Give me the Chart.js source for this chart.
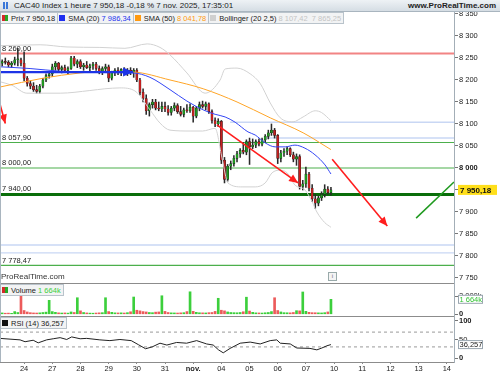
<!DOCTYPE html>
<html>
<head>
<meta charset="utf-8">
<script src="https://cdn.jsdelivr.net/npm/chart.js@4.4.1/dist/chart.umd.min.js"></script>
<style>
  body { margin:0; width:500px; height:375px; position:relative; overflow:hidden; background:#fff;
         font-family:'Liberation Sans', Arial, sans-serif; color:#222; }
  canvas { position:absolute; left:0; }
  #titlebar { position:absolute; left:0; top:0; width:500px; height:11px; line-height:11px; font-size:8px;
              background:linear-gradient(#eef2f5,#d5dde4); border-bottom:1px solid #a9b5bf; }
  #titlebar .ico { position:absolute; left:3px; top:2px; width:7px; height:7px;
              background:linear-gradient(90deg,#3b78d8 0 2px,transparent 2px 3px,#3b78d8 3px 5px,transparent 5px); }
  #titlebar .t { position:absolute; left:14px; top:0; }
  #titlebar .site { position:absolute; right:4px; top:0; font-weight:bold; }
  .legend { position:absolute; left:0; display:flex; height:11px; }
  .lg { display:flex; align-items:center; height:10px; font-size:7.5px; background:#f2f3f4;
        border:1px solid #b9c3cb; border-left:none; padding:0 2px 0 1px; white-space:pre; }
  .lg:first-child { border-left:1px solid #b9c3cb; }
  .sw { display:inline-block; width:6px; height:6px; margin-right:3px; }
  .line { position:absolute; background:#8c8c8c; }
  #brand { position:absolute; left:1px; top:272px; font-size:8px; color:#333; }
  #info { position:absolute; left:328px; top:272px; width:7px; height:7px; border:1px solid #9aa; font-size:6px;
          line-height:7px; text-align:center; color:#667; background:#f4f4f4; }
</style>
</head>
<body>
<div id="titlebar"><span class="ico"></span><span class="t" id="titleText"></span><span class="site">www.ProRealTime.com</span></div>

<canvas id="priceChart" width="500" height="271" style="top:12px"></canvas>
<canvas id="volChart" width="500" height="33" style="top:283px"></canvas>
<canvas id="rsiChart" width="500" height="59" style="top:316px"></canvas>

<div class="legend" style="top:12px">
  <span class="lg"><i class="sw" style="background:linear-gradient(90deg,#d42a2a 50%,#27a827 50%)"></i>Prix <span id="lgPrix"></span></span>
  <span class="lg"><i class="sw" style="background:#1f2ff0"></i>SMA (20) <span id="lgSma20" style="color:#2233ee"></span></span>
  <span class="lg"><i class="sw" style="background:#ff9a10"></i>SMA (50) <span id="lgSma50" style="color:#ff9a10"></span></span>
  <span class="lg"><i class="sw" style="background:#cfcfcf"></i>Bollinger (20 2,5) <span id="lgBoll" style="color:#c4c4c4"></span></span>
</div>
<div class="legend" style="top:284px">
  <span class="lg"><i class="sw" style="background:linear-gradient(90deg,#d42a2a 50%,#27a827 50%)"></i>Volume <span id="lgVol" style="color:#3ccf3c"></span></span>
</div>
<div class="legend" style="top:317px">
  <span class="lg"><i class="sw" style="background:#111"></i>RSI (14) <span id="lgRsi"></span></span>
</div>

<div class="line" style="left:0;top:283px;width:454px;height:1px"></div>
<div class="line" style="left:0;top:316px;width:454px;height:1px"></div>
<div class="line" style="left:0;top:12px;width:1px;height:350px;background:#a9b5bf"></div>
<div id="brand">ProRealTime.com</div>
<div id="info">i</div>

<script>
// x = bar index (1 hour bars, 9 per session), 23 oct (partial) .. 7 nov
const dayLabels = ['24', '27', '28', '29', '30', '31', 'nov.', '04', '05', '06', '07', '10', '11', '12', '13', '14'];
const dayStarts = [7, 16, 25, 34, 43, 52, 61, 70, 79, 88, 97, 106, 115, 124, 133, 142];
const X_MIN = -0.7;
const X_MAX = 144.3;

const openP = [
  8238, 8242, 8240, 8234, 8238, 8246, 8246,
  8238, 8204, 8192, 8186, 8178, 8174, 8186, 8200, 8210,
  8214, 8230, 8238, 8224, 8228, 8222, 8226, 8250, 8236,
  8242, 8230, 8234, 8228, 8232, 8236, 8226, 8220, 8226,
  8230, 8204, 8216, 8222, 8218, 8224, 8216, 8222, 8218,
  8222, 8200, 8172, 8158, 8130, 8144, 8150, 8136, 8134,
  8140, 8134, 8126, 8136, 8142, 8128, 8122, 8132, 8130,
  8138, 8118, 8136, 8144, 8140, 8146, 8128, 8108, 8100,
  8106, 8018, 7974, 8004, 8010, 8022, 8032, 8040, 8036,
  8060, 8048, 8052, 8060, 8054, 8064, 8072, 8080, 8086,
  8074, 8022, 8034, 8038, 8044, 8030, 8020, 8026, 7958,
  7964, 7986, 7954, 7930, 7920, 7932, 7940, 7952, 7944
];
const highP = [
  8246, 8250, 8244, 8242, 8252, 8272, 8250,
  8264, 8208, 8198, 8194, 8188, 8190, 8204, 8214, 8218,
  8236, 8242, 8240, 8232, 8234, 8230, 8254, 8254, 8246,
  8246, 8238, 8242, 8236, 8240, 8240, 8232, 8230, 8236,
  8234, 8220, 8226, 8228, 8226, 8228, 8226, 8228, 8226,
  8226, 8204, 8180, 8166, 8148, 8156, 8156, 8150, 8150,
  8150, 8142, 8140, 8148, 8146, 8140, 8136, 8144, 8146,
  8140, 8140, 8150, 8152, 8150, 8148, 8132, 8114, 8112,
  8108, 8024, 8008, 8016, 8028, 8038, 8044, 8058, 8064,
  8068, 8066, 8064, 8066, 8068, 8076, 8086, 8100, 8090,
  8076, 8040, 8044, 8048, 8046, 8036, 8032, 8030, 7972,
  8002, 7990, 7962, 7940, 7936, 7946, 7962, 7958, 7956
];
const lowP = [
  8232, 8236, 8230, 8228, 8234, 8232, 8232,
  8198, 8186, 8180, 8174, 8170, 8170, 8182, 8196, 8204,
  8208, 8222, 8220, 8216, 8218, 8214, 8224, 8232, 8228,
  8226, 8222, 8226, 8218, 8224, 8222, 8214, 8212, 8218,
  8196, 8200, 8210, 8212, 8210, 8214, 8210, 8212, 8206,
  8196, 8166, 8150, 8122, 8118, 8136, 8132, 8130, 8128,
  8128, 8120, 8120, 8130, 8124, 8118, 8116, 8126, 8126,
  8104, 8114, 8130, 8136, 8132, 8124, 8102, 8094, 8094,
  8010, 7966, 7970, 7996, 8004, 8014, 8024, 8032, 8030,
  8008, 8044, 8046, 8050, 8050, 8058, 8066, 8074, 8068,
  8010, 8014, 8026, 8030, 8026, 8014, 8006, 7952, 7950,
  7956, 7948, 7924, 7908, 7914, 7926, 7934, 7940, 7938
];
const closeP = [
  8242, 8240, 8234, 8238, 8246, 8246, 8238,
  8204, 8192, 8186, 8178, 8174, 8186, 8200, 8210, 8214,
  8230, 8238, 8224, 8228, 8222, 8226, 8250, 8236, 8242,
  8230, 8234, 8228, 8232, 8236, 8226, 8220, 8226, 8230,
  8204, 8216, 8222, 8218, 8224, 8216, 8222, 8218, 8222,
  8200, 8172, 8158, 8130, 8144, 8150, 8136, 8134, 8140,
  8134, 8126, 8136, 8142, 8128, 8122, 8132, 8130, 8138,
  8118, 8136, 8144, 8140, 8146, 8128, 8108, 8100, 8106,
  8018, 7974, 8004, 8010, 8022, 8032, 8040, 8036, 8060,
  8048, 8052, 8060, 8054, 8064, 8072, 8080, 8086, 8074,
  8022, 8034, 8038, 8044, 8030, 8020, 8026, 7958, 7964,
  7986, 7954, 7930, 7920, 7932, 7940, 7952, 7944, 7950.18
];
// volume in thousands
const volumeK = [
  150, 120, 130, 110, 300, 200, 2000,
  420, 260, 180, 150, 140, 160, 200, 240, 1550,
  300, 220, 160, 140, 150, 130, 260, 200, 1840,
  380, 200, 150, 130, 120, 140, 160, 180, 1840,
  300, 220, 160, 150, 160, 140, 180, 280, 1920,
  450, 380, 300, 260, 200, 180, 240, 260, 2060,
  320, 200, 160, 150, 140, 160, 180, 300, 2500,
  330, 220, 170, 160, 150, 180, 200, 320, 1780,
  450, 380, 260, 200, 180, 170, 200, 280, 1900,
  360, 220, 160, 150, 140, 170, 200, 300, 1840,
  420, 260, 180, 170, 160, 200, 400, 380, 2480,
  330, 220, 180, 170, 160, 150, 180, 260, 1664
];

// indicator lines: [bar index, value]
const sma20 = [[-0.7, 8230], [8.9, 8226], [18.5, 8220], [31.2, 8217], [41.8, 8216], [47.2, 8206], [53.6, 8178],
  [59, 8152], [64.2, 8132], [68, 8122], [71.2, 8116], [74.4, 8104], [78.5, 8082], [80.8, 8075], [84, 8057],
  [87.2, 8048], [90.4, 8048], [93.5, 8052], [96.7, 8045], [99.9, 8030], [103.1, 8007], [105, 7986.34]];
const sma50 = [[-0.7, 8184], [13, 8204], [24.9, 8216], [31.2, 8219], [41.8, 8218], [53.6, 8200], [64.2, 8180],
  [75, 8150], [85.6, 8114], [96.1, 8080], [105, 8041.78]];
const bollUp = [[-0.7, 8278], [12.1, 8280], [20.7, 8275], [31.2, 8274], [39.2, 8272], [46.3, 8282], [50.4, 8274],
  [53.6, 8257], [59, 8216], [64.8, 8170], [69.6, 8200], [71.2, 8225], [75, 8227], [79.2, 8214], [82.4, 8192],
  [85.6, 8148], [88.8, 8114], [92.9, 8105], [96.1, 8116], [100, 8130], [102, 8126], [105, 8107.42]];
const bollLow = [[-0.7, 8196], [3.1, 8188], [7.9, 8170], [18.5, 8170], [28, 8176], [32.8, 8180], [37.6, 8182],
  [42.4, 8175], [47.2, 8132], [50.4, 8102], [53.6, 8086], [60, 8084], [64, 8084], [68, 8090], [70.2, 8023],
  [72.1, 7966], [76.6, 7957], [80.8, 7957], [84, 7966], [86.2, 7989], [88.7, 7995], [91, 7989], [93.5, 7961],
  [96.7, 7950], [99, 7923], [100.5, 7900], [103, 7876], [105, 7865.25]];
const rsi = [[-0.7, 53], [2.5, 51], [5.7, 49], [7.3, 44], [9.9, 48], [11.5, 41], [14.2, 49], [16.3, 52], [18.5, 55],
  [20.6, 50], [22.2, 57], [24.9, 52], [27, 53], [31.2, 49], [34.4, 47], [37.6, 50], [41.2, 47], [43.5, 36],
  [45.8, 25], [47.9, 30], [50.4, 40], [52.6, 35], [55.7, 42], [58.9, 40], [62.1, 47], [65.3, 38], [67.4, 35],
  [69.1, 22], [70.6, 14], [72.8, 26], [76, 40], [79.2, 43], [82.4, 38], [85.6, 47], [87.7, 49], [88.8, 40],
  [92, 38], [94.1, 27], [98.3, 26], [100.5, 22], [102.1, 27], [103.7, 33], [105, 36.257]];

// horizontal levels
const levelValues = [8260, 8057.9, 8000, 7940, 7778.47];
const guideValues = [8104, 8068, 7825, 7807];
const guideStarts = [72.8, 84, -0.7, -0.7];
const rsiLevels = [70, 30];

// drawn trend arrows: [bar index, price] start and end
const blueArrow = [[-0.7, 8218], [41.8, 8218]];
const redArrows = [
  [[-2, 8178], [1.0, 8101]],
  [[68.6, 8098], [94.5, 7966]],
  [[105.4, 8020], [123, 7868]]
];
const greenTrend = [[132.2, 7886], [144.3, 7968]];

const priceTicks = [7750, 7800, 7850, 7900, 7950, 8000, 8050, 8100, 8150, 8200, 8250, 8300, 8350];
const volTicks = [0, 1000, 2000, 3000];
const rsiTicks = [0, 50, 100];
const changePct = -0.18;

const FONT = "'Liberation Sans', Arial, sans-serif";
const levelStyles = [
  { color: 'rgba(240,110,110,0.85)', width: 2 },
  { color: '#4caf4c', width: 1.2 },
  { color: '#4caf4c', width: 1.2 },
  { color: '#0a6e0a', width: 3 },
  { color: '#4caf4c', width: 1.2 }
];

const fr = (v, d) => {
  const [i, f] = Math.abs(v).toFixed(d).split('.');
  return (v < 0 ? '-' : '') + i.replace(/\B(?=(\d{3})+(?!\d))/g, ' ') + (f ? ',' + f : '');
};
const pts = arr => arr.map(([x, y]) => ({ x, y }));
const last = arr => arr[arr.length - 1][1];
const lastClose = closeP[closeP.length - 1];
const lastVol = volumeK[volumeK.length - 1];

document.getElementById('titleText').textContent =
  `CAC40 Index 1 heure ${fr(lastClose, 2)} ${fr(changePct, 2)} % 7 nov. 2025, 17:35:01`;
document.getElementById('lgPrix').textContent = fr(lastClose, 2);
document.getElementById('lgSma20').textContent = fr(last(sma20), 2);
document.getElementById('lgSma50').textContent = fr(last(sma50), 2);
document.getElementById('lgBoll').textContent = fr(last(bollUp), 2) + '  ' + fr(last(bollLow), 2);
document.getElementById('lgVol').textContent = fr(lastVol, 0) + 'k';
document.getElementById('lgRsi').textContent = fr(last(rsi), 3);

Chart.defaults.font.family = FONT;

const xScale = (show) => ({
  type: 'linear', min: X_MIN, max: X_MAX, offset: false, display: show,
  grid: { display: true, drawOnChartArea: false, tickLength: 2, color: '#888', offset: false },
  border: { color: '#8c8c8c' },
  afterBuildTicks: s => { s.ticks = dayStarts.map(v => ({ value: v })); },
  afterFit: s => { s.height = show ? 13 : 0; s.paddingLeft = 0; s.paddingRight = 0; },
  ticks: {
    autoSkip: false, maxRotation: 0, padding: 0, color: '#222',
    font: c => ({ family: FONT, size: 7.5, weight: c.tick && dayLabels[dayStarts.indexOf(c.tick.value)] === 'nov.' ? 'bold' : 'normal' }),
    callback: v => dayLabels[dayStarts.indexOf(v)]
  }
});

const yScale = (min, max, ticks, fmt, bold) => ({
  type: 'linear', position: 'right', min, max,
  grid: { drawOnChartArea: false, tickLength: 4, color: '#777' },
  border: { color: '#a3aeb7' },
  afterBuildTicks: s => { s.ticks = ticks.map(v => ({ value: v })); },
  afterFit: s => { s.width = 46; s.paddingTop = 0; s.paddingBottom = 0; },
  ticks: {
    padding: 1, color: '#222',
    font: c => ({ family: FONT, size: 7.5, weight: c.tick && bold.includes(c.tick.value) ? 'bold' : 'normal' }),
    callback: fmt
  }
});

const baseOptions = {
  responsive: false, animation: false, devicePixelRatio: 1, events: [],
  layout: { padding: 0 },
  plugins: { legend: { display: false }, tooltip: { enabled: false } }
};

const arrowHeads = {
  id: 'arrowHeads',
  afterDatasetsDraw(chart) {
    const { ctx, chartArea } = chart;
    ctx.save();
    ctx.beginPath();
    ctx.rect(chartArea.left, chartArea.top, chartArea.right - chartArea.left, chartArea.bottom - chartArea.top);
    ctx.clip();
    chart.data.datasets.forEach((ds, i) => {
      if (!ds.head) return;
      const el = chart.getDatasetMeta(i).data;
      const a = el[el.length - 2], b = el[el.length - 1];
      const ang = Math.atan2(b.y - a.y, b.x - a.x);
      const { len, half } = ds.head;
      const bx = b.x - len * Math.cos(ang), by = b.y - len * Math.sin(ang);
      ctx.fillStyle = ds.borderColor;
      ctx.beginPath();
      ctx.moveTo(b.x, b.y);
      ctx.lineTo(bx + half * Math.sin(ang), by - half * Math.cos(ang));
      ctx.lineTo(bx - half * Math.sin(ang), by + half * Math.cos(ang));
      ctx.closePath();
      ctx.fill();
    });
    ctx.restore();
  }
};

const priceOverlay = {
  id: 'priceOverlay',
  afterDatasetsDraw(chart) {
    const { ctx, scales: { y } } = chart;
    ctx.save();
    ctx.font = `7.5px ${FONT}`;
    ctx.fillStyle = '#222';
    levelValues.forEach((v, i) => {
      ctx.fillText(fr(v, 2), 2, y.getPixelForValue(v) - levelStyles[i].width / 2 - 2);
    });
    ctx.restore();
  },
  afterDraw(chart) {
    const { ctx, scales: { y } } = chart;
    const py = y.getPixelForValue(lastClose);
    ctx.save();
    ctx.fillStyle = '#ffdf1a';
    ctx.fillRect(458, py - 5, 39, 10);
    ctx.font = `bold 8px ${FONT}`;
    ctx.fillStyle = '#111';
    ctx.textBaseline = 'middle';
    ctx.fillText(fr(lastClose, 2), 460, py + 0.5);
    ctx.restore();
  }
};

const axisTag = (value, text, color) => ({
  id: 'axisTag',
  afterDraw(chart) {
    const { ctx, scales: { y } } = chart;
    const py = y.getPixelForValue(value);
    ctx.save();
    ctx.fillStyle = '#fff';
    ctx.strokeStyle = '#9aa6b0';
    ctx.fillRect(458, py - 4.5, 25, 9);
    ctx.strokeRect(458.5, py - 4, 24, 8);
    ctx.font = `7.5px ${FONT}`;
    ctx.fillStyle = color;
    ctx.textBaseline = 'middle';
    ctx.fillText(text, 459.5, py + 0.5);
    ctx.restore();
  }
});

const upColor = i => closeP[i] >= openP[i];

const priceDatasets = [
  ...redArrows.map(a => ({
    type: 'line', data: pts(a), borderColor: '#ff1e1e', borderWidth: 1.6, pointRadius: 0,
    head: { len: 9, half: 4 }, order: 0
  })),
  { type: 'line', data: pts(blueArrow), borderColor: '#1d34e6', borderWidth: 2.2, pointRadius: 0,
    head: { len: 10, half: 4.5 }, order: 0 },
  { type: 'line', data: pts(greenTrend), borderColor: '#1f9a1f', borderWidth: 1.5, pointRadius: 0, order: 0 },
  { type: 'line', data: pts(sma20), borderColor: '#3346f5', borderWidth: 1, pointRadius: 0, cubicInterpolationMode: 'monotone', order: 1 },
  { type: 'line', data: pts(sma50), borderColor: '#ffa527', borderWidth: 1, pointRadius: 0, cubicInterpolationMode: 'monotone', order: 1 },
  { type: 'line', data: pts(bollUp), borderColor: '#d2d2d2', borderWidth: 1, pointRadius: 0, cubicInterpolationMode: 'monotone', order: 2 },
  { type: 'line', data: pts(bollLow), borderColor: '#d2d2d2', borderWidth: 1, pointRadius: 0, cubicInterpolationMode: 'monotone', order: 2 },
  { type: 'bar', data: openP.map((o, i) => ({ x: i, y: [o, closeP[i]] })), grouped: false, barThickness: 2.2, minBarLength: 1,
    backgroundColor: openP.map((o, i) => upColor(i) ? '#1f9a1f' : '#c42020'),
    borderColor: '#1b1b1b', borderWidth: 0.4, borderSkipped: false, order: 3 },
  { type: 'bar', data: lowP.map((l, i) => ({ x: i, y: [l, highP[i]] })), grouped: false, barThickness: 0.9,
    backgroundColor: '#2a2a2a', order: 4 },
  ...levelValues.map((v, i) => ({
    type: 'line', data: [{ x: X_MIN, y: v }, { x: X_MAX, y: v }], borderColor: levelStyles[i].color,
    borderWidth: levelStyles[i].width, pointRadius: 0, order: 5
  })),
  ...guideValues.map((v, i) => ({
    type: 'line', data: [{ x: guideStarts[i], y: v }, { x: X_MAX, y: v }], borderColor: '#c9d7f4',
    borderWidth: 1.4, pointRadius: 0, order: 6
  }))
];

new Chart(document.getElementById('priceChart'), {
  type: 'bar',
  data: { datasets: priceDatasets },
  options: {
    ...baseOptions,
    scales: {
      x: xScale(false),
      y: yScale(7738.6, 8354.5, priceTicks, v => fr(v, 0), [8000])
    }
  },
  plugins: [priceOverlay, arrowHeads]
});

new Chart(document.getElementById('volChart'), {
  type: 'bar',
  data: {
    datasets: [{
      data: volumeK.map((v, i) => ({ x: i, y: v })), barThickness: 2, grouped: false,
      backgroundColor: volumeK.map((v, i) => upColor(i) ? '#3ccf3c' : '#ec5b5b')
    }]
  },
  options: {
    ...baseOptions,
    scales: {
      x: xScale(false),
      y: yScale(-190, 3478, volTicks, v => v === 0 ? '0' : fr(v, 0) + 'k', [0])
    }
  },
  plugins: [axisTag(lastVol, fr(lastVol, 0) + 'k', '#33c433')]
});

new Chart(document.getElementById('rsiChart'), {
  type: 'line',
  data: {
    datasets: [
      { data: pts(rsi), borderColor: '#222', borderWidth: 1, pointRadius: 0 },
      ...rsiLevels.map(v => ({
        data: [{ x: X_MIN, y: v }, { x: X_MAX, y: v }], borderColor: '#9a9a9a', borderWidth: 1,
        borderDash: [3, 3], pointRadius: 0
      }))
    ]
  },
  options: {
    ...baseOptions,
    scales: {
      x: xScale(true),
      y: yScale(-10.8, 113.5, rsiTicks, v => fr(v, 0), [0, 100])
    }
  },
  plugins: [axisTag(last(rsi), fr(last(rsi), 3), '#222')]
});
</script>
</body>
</html>
